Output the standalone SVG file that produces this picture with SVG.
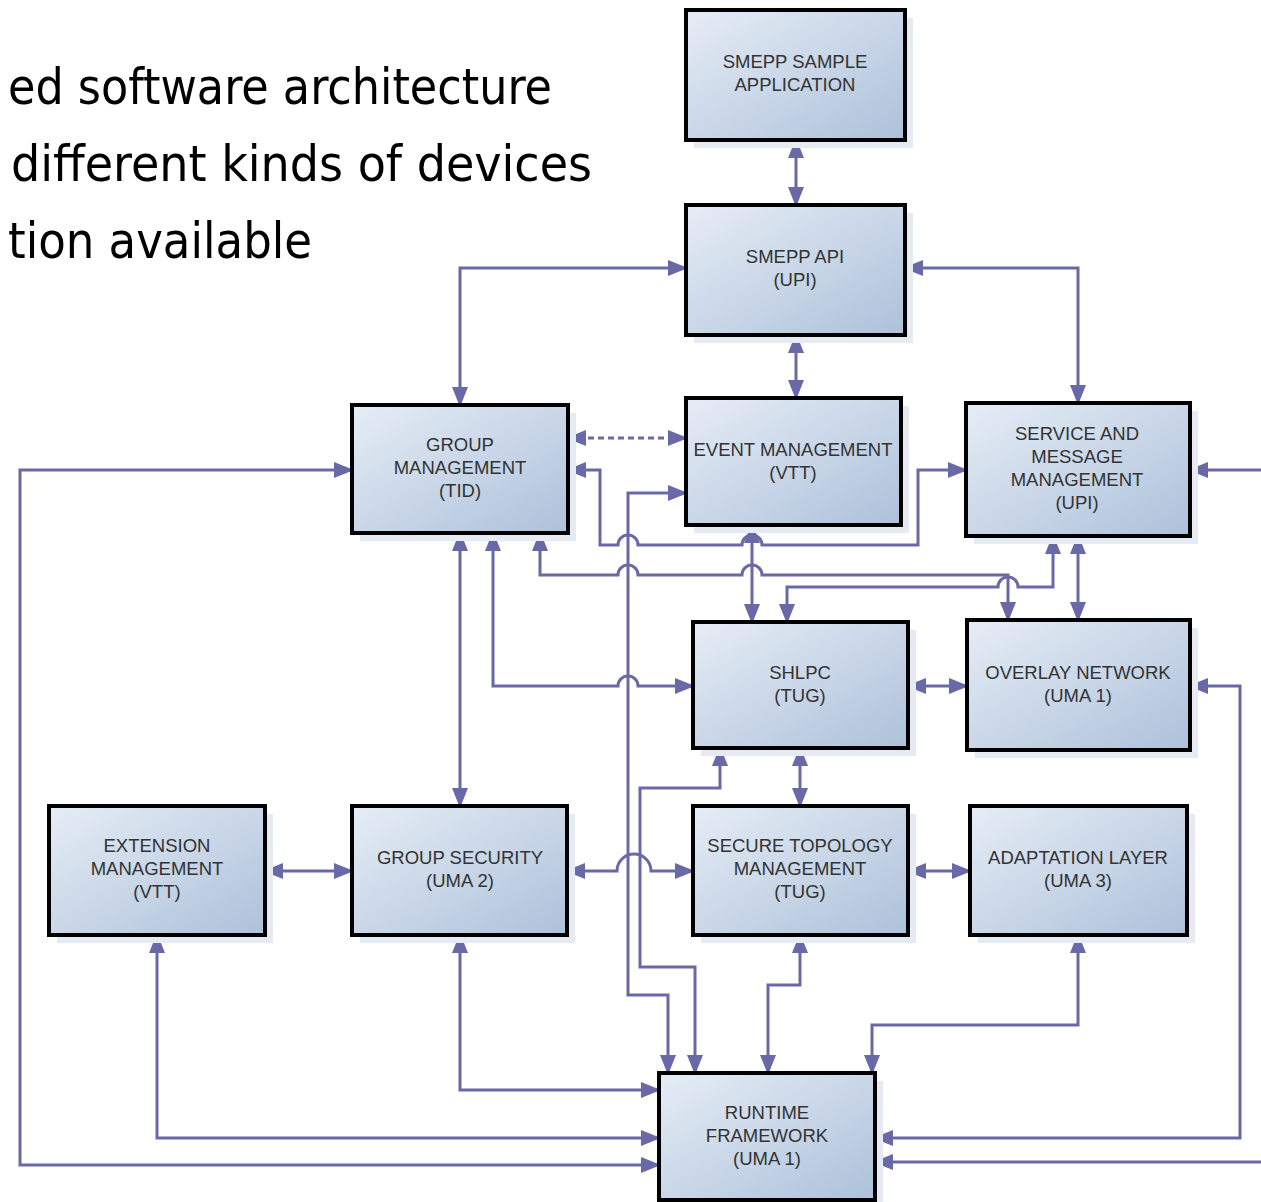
<svg xmlns="http://www.w3.org/2000/svg" width="1261" height="1202" viewBox="0 0 1261 1202">
<defs>
<linearGradient id="g" x1="0" y1="0" x2="1" y2="1">
<stop offset="0" stop-color="#e6edf6"/>
<stop offset="1" stop-color="#adc1da"/>
</linearGradient>
<marker id="a" markerUnits="userSpaceOnUse" markerWidth="22" markerHeight="18" refX="18" refY="8" orient="auto-start-reverse" viewBox="0 0 22 16">
<path d="M0,0 L20,8 L0,16 z" fill="#6a69a8"/>
</marker>
<style>
.box{fill:url(#g);stroke:#000;stroke-width:4}
.sh{fill:#e6eaf2}
.t{font-family:"Liberation Sans",Arial,sans-serif;font-size:18.5px;fill:#333;text-anchor:middle}
.h{font-family:"DejaVu Sans Condensed","DejaVu Sans",sans-serif;font-size:50px;fill:#000}
.c path{fill:none;stroke:#6a69a8;stroke-width:3}
.b{marker-start:url(#a);marker-end:url(#a)}
.e{marker-end:url(#a)}
</style>
</defs>
<rect width="1261" height="1202" fill="#fff"/>
<g id="heading">
<text class="h" x="8" y="104" textLength="544" lengthAdjust="spacingAndGlyphs">ed software architecture</text>
<text class="h" x="11" y="181" textLength="581" lengthAdjust="spacingAndGlyphs">different kinds of devices</text>
<text class="h" x="8" y="258" textLength="304" lengthAdjust="spacingAndGlyphs">tion available</text>
</g>
<g id="connectors" class="c">
<path class="b" d="M796,140 V205"/>
<path class="b" d="M796,335 V398"/>
<path class="b" d="M686,268 H460 V405"/>
<path class="b" d="M905,268 H1078 V403"/>
<path class="b" d="M568,438 H686" stroke-dasharray="6,4"/>
<path class="b" d="M568,470 H600 V545 H618 A10,10 0 0 1 638,545 H742 A10,10 0 0 1 762,545 H918 V470 H966"/>
<path class="b" d="M686,493 H628 V995 H668 V1073"/>
<path class="b" d="M720,748 V788 H640 V967 H695 V1073"/>
<path class="b" d="M460,533 V806"/>
<path class="b" d="M493,533 V686 H618 A10,10 0 0 1 638,686 H693"/>
<path class="b" d="M540,533 V575 H618 A10,10 0 0 1 638,575 H742 A10,10 0 0 1 762,575 H1008 V620"/>
<path class="b" d="M1053,536 V587 H1018 A10,10 0 0 0 998,587 H787 V622"/>
<path class="b" d="M1078,536 V620"/>
<path class="b" d="M752,525 V622"/>
<path class="b" d="M908,686 H967"/>
<path class="b" d="M800,748 V806"/>
<path class="b" d="M265,871 H352"/>
<path class="b" d="M567,871 H617 A17,17 0 0 1 651,871 H693"/>
<path class="b" d="M908,871 H970"/>
<path class="b" d="M157,935 V1138 H659"/>
<path class="b" d="M460,935 V1090 H659"/>
<path class="b" d="M352,470 H20 V1165 H659"/>
<path class="b" d="M800,935 V985 H768 V1073"/>
<path class="b" d="M1078,935 V1025 H872 V1073"/>
<path class="e" d="M1261,470 H1190"/>
<path class="b" d="M1190,686 H1240 V1138 H875"/>
<path class="e" d="M1261,1162 H875"/>
</g>
<g id="n-app">
<rect class="sh" x="694" y="18" width="219" height="130"/>
<rect class="box" x="686" y="10" width="219" height="130"/>
<text class="t" x="795" y="68">SMEPP SAMPLE</text>
<text class="t" x="795" y="91">APPLICATION</text>
</g>
<g id="n-api">
<rect class="sh" x="694" y="213" width="219" height="130"/>
<rect class="box" x="686" y="205" width="219" height="130"/>
<text class="t" x="795" y="263">SMEPP API</text>
<text class="t" x="795" y="286">(UPI)</text>
</g>
<g id="n-group">
<rect class="sh" x="360" y="413" width="216" height="128"/>
<rect class="box" x="352" y="405" width="216" height="128"/>
<text class="t" x="460" y="451">GROUP</text>
<text class="t" x="460" y="474">MANAGEMENT</text>
<text class="t" x="460" y="497">(TID)</text>
</g>
<g id="n-event">
<rect class="sh" x="694" y="406" width="215" height="127"/>
<rect class="box" x="686" y="398" width="215" height="127"/>
<text class="t" x="793" y="456">EVENT MANAGEMENT</text>
<text class="t" x="793" y="479">(VTT)</text>
</g>
<g id="n-service">
<rect class="sh" x="974" y="411" width="224" height="133"/>
<rect class="box" x="966" y="403" width="224" height="133"/>
<text class="t" x="1077" y="440">SERVICE AND</text>
<text class="t" x="1077" y="463">MESSAGE</text>
<text class="t" x="1077" y="486">MANAGEMENT</text>
<text class="t" x="1077" y="509">(UPI)</text>
</g>
<g id="n-shlpc">
<rect class="sh" x="701" y="630" width="215" height="126"/>
<rect class="box" x="693" y="622" width="215" height="126"/>
<text class="t" x="800" y="679">SHLPC</text>
<text class="t" x="800" y="702">(TUG)</text>
</g>
<g id="n-overlay">
<rect class="sh" x="975" y="628" width="223" height="130"/>
<rect class="box" x="967" y="620" width="223" height="130"/>
<text class="t" x="1078" y="679">OVERLAY NETWORK</text>
<text class="t" x="1078" y="702">(UMA 1)</text>
</g>
<g id="n-extension">
<rect class="sh" x="57" y="814" width="216" height="129"/>
<rect class="box" x="49" y="806" width="216" height="129"/>
<text class="t" x="157" y="852">EXTENSION</text>
<text class="t" x="157" y="875">MANAGEMENT</text>
<text class="t" x="157" y="898">(VTT)</text>
</g>
<g id="n-gsec">
<rect class="sh" x="360" y="814" width="215" height="129"/>
<rect class="box" x="352" y="806" width="215" height="129"/>
<text class="t" x="460" y="864">GROUP SECURITY</text>
<text class="t" x="460" y="887">(UMA 2)</text>
</g>
<g id="n-stm">
<rect class="sh" x="701" y="814" width="215" height="129"/>
<rect class="box" x="693" y="806" width="215" height="129"/>
<text class="t" x="800" y="852">SECURE TOPOLOGY</text>
<text class="t" x="800" y="875">MANAGEMENT</text>
<text class="t" x="800" y="898">(TUG)</text>
</g>
<g id="n-adapt">
<rect class="sh" x="978" y="814" width="217" height="129"/>
<rect class="box" x="970" y="806" width="217" height="129"/>
<text class="t" x="1078" y="864">ADAPTATION LAYER</text>
<text class="t" x="1078" y="887">(UMA 3)</text>
</g>
<g id="n-runtime">
<rect class="sh" x="667" y="1081" width="216" height="127"/>
<rect class="box" x="659" y="1073" width="216" height="127"/>
<text class="t" x="767" y="1119">RUNTIME</text>
<text class="t" x="767" y="1142">FRAMEWORK</text>
<text class="t" x="767" y="1165">(UMA 1)</text>
</g>
</svg>
